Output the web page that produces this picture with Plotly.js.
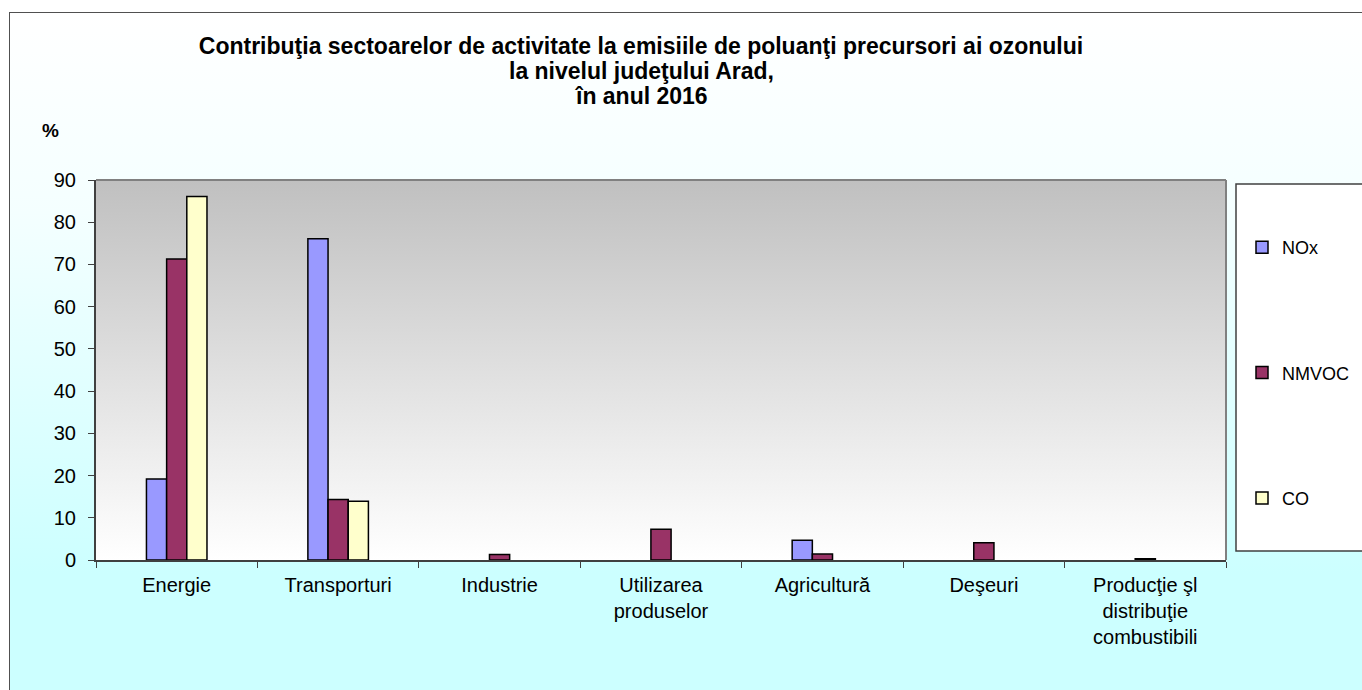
<!DOCTYPE html>
<html>
<head>
<meta charset="utf-8">
<script src="https://cdn.plot.ly/plotly-3.0.1.min.js"></script>
<style>
  html, body { margin: 0; padding: 0; background: #ffffff; }
  #frame {
    position: absolute; left: 9px; top: 12px; width: 1400px; height: 720px;
    border: 1.5px solid #505050;
    background: linear-gradient(to bottom, #ffffff 0px, #f4ffff 200px, #ccffff 560px, #ccffff 720px);
  }
  #chart { position: absolute; left: 0; top: 0; width: 1362px; height: 690px; }
</style>
</head>
<body>
<div id="frame"></div>
<div id="chart"></div>
<script>
// ---- data ----
const categories = [
  'Energie',
  'Transporturi',
  'Industrie',
  'Utilizarea<br>produselor',
  'Agricultură',
  'Deşeuri',
  'Producţie şl<br>distribuţie<br>combustibili'
];
const seriesNames = ['NOx', 'NMVOC', 'CO'];
const noxValues   = [19.2, 76.1, 0,   0,   4.7, 0,   0];
const nmvocValues = [71.3, 14.3, 1.3, 7.3, 1.4, 4.1, 0.3];
const coValues    = [86.1, 13.9, 0,   0,   0,   0,   0];
const yTickValues = [0, 10, 20, 30, 40, 50, 60, 70, 80, 90];
const titleLines = [
  'Contribuţia sectoarelor de activitate la emisiile de poluanţi precursori ai ozonului',
  'la nivelul judeţului Arad,',
  'în anul 2016'
];
const yUnitLabel = '%';

// ---- styles ----
const FONT = 'Liberation Sans, Arial, sans-serif';
const colors = ['#9999ff', '#993366', '#ffffcc'];
const allValues = [noxValues, nmvocValues, coValues];

const traces = seriesNames.map((name, i) => ({
  type: 'bar',
  name: name,
  x: categories,
  // zero shares are not drawn as bars in the original chart
  y: allValues[i].map(v => (v === 0 ? null : v)),
  legendgroup: 'g' + i,
  marker: { color: colors[i], line: { color: '#000000', width: 1.5 } },
  hoverinfo: 'x+y+name'
}));

const gradSvg = '<svg xmlns="http://www.w3.org/2000/svg" width="100" height="100" preserveAspectRatio="none">' +
  '<defs><linearGradient id="g" x1="0" y1="0" x2="0" y2="1">' +
  '<stop offset="0" stop-color="#c0c0c0"/><stop offset="1" stop-color="#ffffff"/>' +
  '</linearGradient></defs><rect width="100" height="100" fill="url(#g)"/></svg>';
const gradUri = 'data:image/svg+xml;base64,' + btoa(gradSvg);

const L = 96, R = 1226, T = 180, B = 560, W = 1362, H = 690;
const px2x = p => (p - L) / (R - L);
const py2y = p => (B - p) / (B - T);
const TITLE_SIZE = 23;
const TITLE_CX = 641;

const layout = {
  width: W, height: H,
  margin: { l: L, r: W - R, t: T, b: H - B, pad: 0, autoexpand: false },
  paper_bgcolor: 'rgba(0,0,0,0)',
  plot_bgcolor: 'rgba(0,0,0,0)',
  font: { family: FONT, color: '#000000', size: 20 },
  title: {
    text: '<b>' + titleLines[0] + '</b>',
    font: { family: FONT, size: TITLE_SIZE, color: '#000000' },
    xref: 'container', x: TITLE_CX / W, xanchor: 'center',
    yref: 'container', y: 1 - 46 / H, yanchor: 'middle'
  },
  barmode: 'group',
  bargap: 0.625,
  bargroupgap: 0,
  showlegend: true,
  legend: {
    x: px2x(1242), xanchor: 'left',
    y: py2y(229), yanchor: 'top',
    bgcolor: 'rgba(0,0,0,0)',
    borderwidth: 0,
    font: { family: FONT, size: 18, color: '#000000' },
    traceorder: 'grouped',
    tracegroupgap: 99,
    itemwidth: 30
  },
  xaxis: {
    type: 'category',
    showline: true, linecolor: '#404040', linewidth: 2,
    ticks: 'outside', tickson: 'boundaries', ticklen: 6, tickcolor: '#404040', tickwidth: 1,
    ticklabelstandoff: 6,
    tickfont: { family: FONT, size: 20, color: '#000000' },
    showgrid: false, zeroline: false, automargin: false, fixedrange: true
  },
  yaxis: {
    range: [0, 90],
    tickvals: yTickValues,
    showline: true, linecolor: '#404040', linewidth: 2,
    ticks: 'outside', ticklen: 6, tickcolor: '#404040', tickwidth: 1,
    ticklabelstandoff: 8,
    tickfont: { family: FONT, size: 20, color: '#000000' },
    showgrid: false, zeroline: false, automargin: false, fixedrange: true
  },
  images: [{
    source: gradUri, xref: 'paper', yref: 'paper',
    x: 0, y: 1, sizex: 1, sizey: 1, sizing: 'stretch',
    xanchor: 'left', yanchor: 'top', layer: 'below'
  }],
  shapes: [
    { type: 'line', xref: 'paper', yref: 'paper', x0: 0, x1: 1, y0: 1, y1: 1, line: { color: '#808080', width: 2 } },
    { type: 'line', xref: 'paper', yref: 'paper', x0: 1, x1: 1, y0: 0, y1: 1, line: { color: '#808080', width: 2 } },
    { type: 'rect', xref: 'paper', yref: 'paper', x0: px2x(1236), x1: px2x(1380), y0: py2y(551), y1: py2y(184),
      fillcolor: '#ffffff', line: { color: '#404040', width: 1.5 }, layer: 'below' }
  ],
  annotations: [
    {
      text: '<b>' + titleLines[1] + '</b>', xref: 'paper', yref: 'paper',
      x: px2x(TITLE_CX), y: py2y(71), xanchor: 'center', yanchor: 'middle',
      showarrow: false, font: { family: FONT, size: TITLE_SIZE, color: '#000000' }
    },
    {
      text: '<b>' + titleLines[2] + '</b>', xref: 'paper', yref: 'paper',
      x: px2x(TITLE_CX), y: py2y(96), xanchor: 'center', yanchor: 'middle',
      showarrow: false, font: { family: FONT, size: TITLE_SIZE, color: '#000000' }
    },
    {
      text: '<b>' + yUnitLabel + '</b>', xref: 'paper', yref: 'paper',
      x: px2x(50), y: py2y(131), xanchor: 'center', yanchor: 'middle',
      showarrow: false, font: { family: FONT, size: 19, color: '#000000' }
    }
  ]
};

Plotly.newPlot('chart', traces, layout, { displayModeBar: false, staticPlot: true });
</script>
</body>
</html>
